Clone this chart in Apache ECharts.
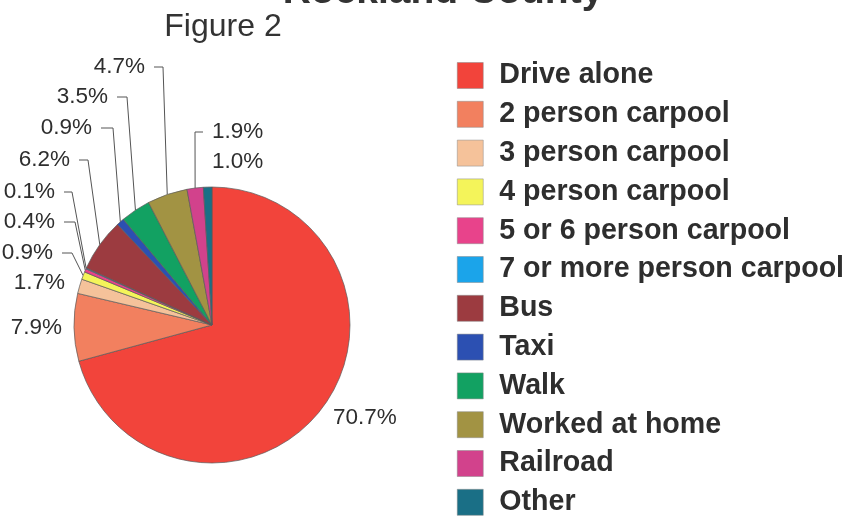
<!DOCTYPE html>
<html><head><meta charset="utf-8">
<script src="https://cdn.jsdelivr.net/npm/echarts@6/dist/echarts.min.js"></script>
<style>html,body{margin:0;padding:0;background:#fff}#c{width:853px;height:517px}</style>
</head><body><div id="c"></div>
<script>
// ---- data ----
const categories = ['Drive alone','2 person carpool','3 person carpool','4 person carpool','5 or 6 person carpool','7 or more person carpool','Bus','Taxi','Walk','Worked at home','Railroad','Other'];
const shares = [70.7, 7.9, 1.7, 0.9, 0.4, 0.1, 6.2, 0.9, 3.5, 4.7, 1.9, 1.0];
const titleText = 'Rockland County';
const subtitleText = 'Figure 2';

// ---- styles / layout ----
const colors = ['#f2443b','#f2805f','#f5c29a','#f4f45a','#e8438b','#1ba4ea','#9c3b40','#2c50b2','#12a162','#a29343','#d2428c','#1a6f86'];
const CX = 212, CY = 325, R = 138;
const labelSpots = [
  {x:333, y:418, align:'left'},
  {x:62,  y:328, align:'right'},
  {x:65,  y:283, align:'right'},
  {x:53,  y:253, align:'right', corner:72},
  {x:55,  y:222, align:'right', corner:75},
  {x:55,  y:192, align:'right', corner:72},
  {x:70,  y:160, align:'right', corner:88},
  {x:92,  y:128, align:'right', corner:113},
  {x:108, y:97,  align:'right', corner:127},
  {x:145, y:67,  align:'right', corner:163},
  {x:212, y:132, align:'left',  corner:195},
  {x:212, y:162, align:'left'}
];

const total = shares.reduce((a,b)=>a+b,0);
function edgePoint(i){
  let cum = 0;
  for (let k=0;k<i;k++) cum += shares[k];
  const th = (cum + shares[i]/2)/total*2*Math.PI;
  return [CX + R*Math.sin(th), CY - R*Math.cos(th)];
}

const chart = echarts.init(document.getElementById('c'), null, {renderer:'canvas'});
chart.setOption({
  animation:false,
  backgroundColor:'#fff',
  color: colors,
  title:[
    {text:titleText, left:438, top:-32, textAlign:'center',
     textStyle:{fontFamily:'Liberation Sans', fontWeight:'bold', fontSize:39, color:'#333'}},
    {text:subtitleText, left:218, top:6, textAlign:'center',
     textStyle:{fontFamily:'Liberation Sans', fontWeight:'normal', fontSize:32, color:'#333'}}
  ],
  legend:{
    orient:'vertical', left:457, top:61, height:600, padding:0,
    itemWidth:26, itemHeight:26, itemGap:9.8, icon:'rect',
    data: categories,
    selectedMode:false,
    itemStyle:{borderColor:'#888', borderWidth:0.5},
    textStyle:{fontFamily:'Liberation Sans', fontWeight:'bold', fontSize:28.6, lineHeight:26, color:'#2e2e2e', padding:[0,0,0,11]}
  },
  series:[{
    type:'pie',
    center:[CX, CY], radius:R,
    startAngle:90, clockwise:true,
    avoidLabelOverlap:false,
    emphasis:{disabled:true},
    itemStyle:{borderColor:'#5a5a5a', borderWidth:0.7},
    label:{show:true, position:'outside', fontFamily:'Liberation Sans', fontSize:22.5, color:'#2e2e2e',
      formatter:(p)=>p.value.toFixed(1)+'%'},
    labelLine:{show:true, length:5, length2:5, smooth:false, lineStyle:{color:'#555', width:1}},
    labelLayout:function(p){
      const s = labelSpots[p.dataIndex];
      const out = {x:s.x, y:s.y, align:s.align, verticalAlign:'middle'};
      if (s.corner !== undefined){
        const e = edgePoint(p.dataIndex);
        const endX = s.align === 'right' ? s.x + 9 : s.x - 9;
        out.labelLinePoints = [e, [s.corner, s.y], [endX, s.y]];
      }
      return out;
    },
    data: categories.map((n,i)=>{
      const d = {name:n, value:shares[i]};
      if (labelSpots[i].corner === undefined) d.labelLine = {show:false};
      return d;
    })
  }]
});
</script>
</body></html>
